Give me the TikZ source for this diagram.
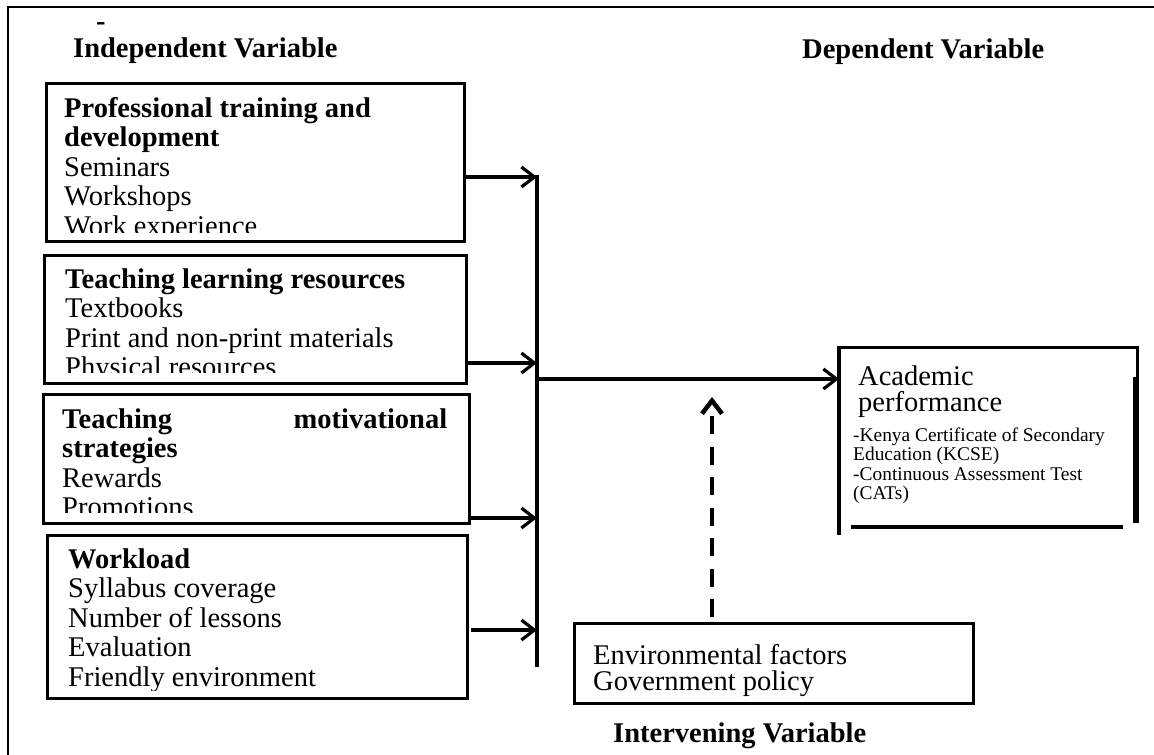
\documentclass[tikz,border=0pt]{standalone}
\usepackage{fontspec}
\setmainfont{Liberation Serif}
\usetikzlibrary{arrows.meta}
\newcommand\bigfont{\fontsize{28.5}{29.5}\selectfont}
\newcommand\smallfont{\fontsize{19.4}{19.5}\selectfont}
\tikzset{
  box/.style={draw, line width=3.4pt, anchor=north west, inner sep=0pt},
  txt/.style={anchor=base west, inner sep=0pt, font=\bigfont},
  ttl/.style={anchor=base west, inner sep=0pt, font=\bigfont\bfseries},
  arr/.style={line width=3.2pt, -{Straight Barb[length=13pt,width=20pt]}},
  bus/.style={line width=4.2pt},
  darr/.style={line width=4.5pt, dash pattern=on 18pt off 12.5pt, -{Straight Barb[length=13pt,width=20pt]}},
  frame/.style={line width=2.5pt},
  edge5/.style={line width=3.4pt}
}
\begin{document}
\begin{tikzpicture}[x=1pt,y=-1pt]
\useasboundingbox (0,0) rectangle (1154,755);
% outer frame
\draw[frame] (8,755) -- (8,7) -- (1154,7);

% titles
\node[ttl] (mark) at (96,30) {-};
\node[ttl] (indep) at (73,57) {Independent Variable};
\node[ttl] (dep) at (802,58) {Dependent Variable};
\node[ttl] (interv) at (613,742) {Intervening Variable};

% independent boxes
\node[box, minimum width=418pt, minimum height=158pt] (b1) at (45,82) {};
\node[box, minimum width=422pt, minimum height=128pt] (b2) at (43,254) {};
\node[box, minimum width=426pt, minimum height=129pt] (b3) at (42,393) {};
\node[box, minimum width=420pt, minimum height=163pt] (b4) at (46,534) {};

\begin{scope}
\clip (48,85) rectangle (460,232);
\node[txt] (t1) at (64,117) {\begin{tabular}[t]{@{}l@{}}\textbf{Professional training and}\\ \textbf{development}\\ Seminars\\ Workshops\\ Work experience\end{tabular}};
\end{scope}
\begin{scope}
\clip (46,257) rectangle (462,372);
\node[txt] (t2) at (65,288) {\begin{tabular}[t]{@{}l@{}}\textbf{Teaching learning resources}\\ Textbooks\\ Print and non-print materials\\ Physical resources\end{tabular}};
\end{scope}
\begin{scope}
\clip (45,396) rectangle (465,512);
\node[txt] (t3) at (62,428) {\begin{tabular}[t]{@{}l@{}}\hbox to 385pt{\textbf{Teaching}\hfill\textbf{motivational}}\\ \textbf{strategies}\\ Rewards\\ Promotions\end{tabular}};
\end{scope}
\begin{scope}
\clip (49,537) rectangle (463,690);
\node[txt] (t4) at (68,568) {\begin{tabular}[t]{@{}l@{}}\textbf{Workload}\\ Syllabus coverage\\ Number of lessons\\ Evaluation\\ Friendly environment\end{tabular}};
\end{scope}

% bus and arrows
\coordinate (bt) at (537,175);
\coordinate (bb) at (537,667);
\draw[bus] (bt) -- (bb);
\coordinate (s1) at (463,177);
\coordinate (s2) at (466,363);
\coordinate (s3) at (471,518);
\coordinate (s4) at (471,630);
\draw[arr] (s1) -- (s1 -| bt);
\draw[arr] (s2) -- (s2 -| bt);
\draw[arr] (s3) -- (s3 -| bt);
\draw[arr] (s4) -- (s4 -| bt);

% dependent box
\node[anchor=north west, inner sep=0pt, minimum width=298pt, minimum height=180pt] (b5) at (839,347) {};
\draw[edge5, line width=3pt] (b5.north west) -- (b5.north east);
\draw[edge5] (839,345.5) -- (839,535);
\draw[line width=3pt] (1137,345.5) -- (1137,380);
\draw[line width=6pt] (1136,377) -- (1136,523);
\draw[edge5] (851,527) -- (1123,527);
\node[txt] (t5) at (858,385) {\begin{tabular}[t]{@{}l@{}}Academic\\[-3.5pt] performance\end{tabular}};
\node[anchor=base west, inner sep=0pt, font=\smallfont] (t7) at (853,441) {\begin{tabular}[t]{@{}l@{}}-Kenya Certificate of Secondary\\ Education (KCSE)\\ -Continuous Assessment Test\\ (CATs)\end{tabular}};

\coordinate (m) at (537,379);
\draw[arr] (m) -- (m -| b5.west);

% intervening
\node[box, minimum width=399pt, minimum height=80pt] (env) at (573,622) {};
\node[txt] (t8) at (593,664) {\begin{tabular}[t]{@{}l@{}}Environmental factors\\[-3.5pt] Government policy\end{tabular}};
\coordinate (d0) at (712,617);
\coordinate (d1) at (712,397);
\draw[darr] (d0) -- (d1);
\end{tikzpicture}
\end{document}
